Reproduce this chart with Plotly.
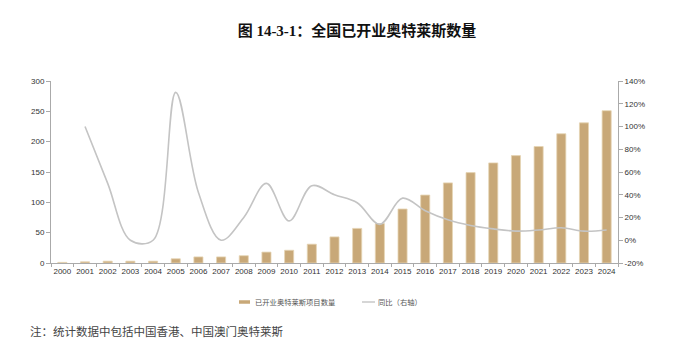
import plotly.graph_objects as go

# Outlet centres opened nationwide, and year-on-year growth (%)
years = ["2000", "2001", "2002", "2003", "2004", "2005", "2006", "2007", "2008",
         "2009", "2010", "2011", "2012", "2013", "2014", "2015", "2016", "2017",
         "2018", "2019", "2020", "2021", "2022", "2023", "2024"]
outlets_open = [1, 2, 3, 3, 3, 7, 10, 10, 12, 18, 21, 31, 43, 57, 65, 89, 112,
                132, 149, 165, 177, 192, 213, 231, 251]
yoy_growth = [None, 100, 50, 0, 0, 130, 42, 0, 20, 50, 17, 48, 40, 33, 14, 37,
              26, 18, 13, 10, 8, 9, 11, 8, 9]

left_ticks = [0, 50, 100, 150, 200, 250, 300]
right_ticks = [-20, 0, 20, 40, 60, 80, 100, 120, 140]

title_text = "图 14-3-1：全国已开业奥特莱斯数量"
bar_name = "已开业奥特莱斯项目数量"
line_name = "同比（右轴）"
note_text = "注：统计数据中包括中国香港、中国澳门奥特莱斯"

W, H = 684, 348
L, R, T, B = 51, 66, 81, 85
PW, PH = W - L - R, H - T - B

def px(x):
    return (x - L) / PW

def py(y):
    return (H - B - y) / PH

BAR_COLOR = "rgb(200,168,120)"
LINE_COLOR = "rgb(196,196,196)"
AXIS_COLOR = "rgb(170,170,170)"
TICK_FONT = dict(family="Liberation Sans, Arial", size=8, color="#333333")
CJK = "Noto Sans CJK SC"

fig = go.Figure()
fig.add_trace(go.Bar(
    x=years, y=outlets_open, name=bar_name, width=0.4,
    marker=dict(color=BAR_COLOR, line=dict(color="rgb(230,212,180)", width=0.8)),
    yaxis="y", showlegend=False,
))
fig.add_trace(go.Scatter(
    x=years, y=yoy_growth, name=line_name, mode="lines",
    line=dict(color=LINE_COLOR, width=1.6, shape="spline", smoothing=1.0),
    yaxis="y2", showlegend=False, connectgaps=False,
))

fig.update_layout(
    width=W, height=H,
    margin=dict(l=L, r=R, t=T, b=B, pad=0),
    paper_bgcolor="white", plot_bgcolor="white",
    bargap=0.6,
    title=dict(text=title_text, x=357 / W, xanchor="center", xref="container",
               y=1 - 31 / H, yanchor="middle", yref="container",
               font=dict(family="Liberation Serif, " + CJK, size=15, color="#111111", weight="bold")),
    xaxis=dict(
        type="category", range=[-0.5, 24.5], showgrid=False, zeroline=False,
        showline=True, linecolor=AXIS_COLOR, linewidth=1,
        ticks="outside", ticklen=3, tickcolor=AXIS_COLOR, tickson="boundaries",
        tickangle=0, tickfont=TICK_FONT,
    ),
    yaxis=dict(
        range=[0, 300], tickvals=left_ticks, ticktext=[str(v) for v in left_ticks],
        showgrid=False, zeroline=False, showline=True, linecolor=AXIS_COLOR, linewidth=1,
        ticks="outside", ticklen=4, tickcolor=AXIS_COLOR, tickfont=TICK_FONT,
    ),
    yaxis2=dict(
        range=[-20, 140], overlaying="y", side="right",
        tickvals=right_ticks, ticktext=[f"{v}%" for v in right_ticks],
        showgrid=False, zeroline=False, showline=True, linecolor=AXIS_COLOR, linewidth=1,
        ticks="outside", ticklen=4, tickcolor=AXIS_COLOR, tickfont=TICK_FONT,
    ),
)

# Hand-built legend below the plot
leg_y = py(302)
fig.add_shape(type="line", xref="paper", yref="paper",
              x0=px(239), x1=px(250), y0=leg_y, y1=leg_y,
              line=dict(color=BAR_COLOR, width=3.5))
fig.add_annotation(xref="paper", yref="paper", x=px(253), y=leg_y,
                   xanchor="left", yanchor="middle", showarrow=False,
                   text=bar_name, font=dict(family=CJK, size=7.3, color="#555555"))
fig.add_shape(type="line", xref="paper", yref="paper",
              x0=px(362), x1=px(375), y0=leg_y, y1=leg_y,
              line=dict(color=LINE_COLOR, width=1.4))
fig.add_annotation(xref="paper", yref="paper", x=px(376), y=leg_y,
                   xanchor="left", yanchor="middle", showarrow=False,
                   text=line_name, font=dict(family=CJK, size=7.3, color="#555555"))

# Footnote
fig.add_annotation(xref="paper", yref="paper", x=px(28), y=py(331),
                   xanchor="left", yanchor="middle", showarrow=False,
                   text=note_text,
                   font=dict(family="Liberation Serif, " + CJK, size=11.5, color="#444444"))

fig.write_html("out.html")
